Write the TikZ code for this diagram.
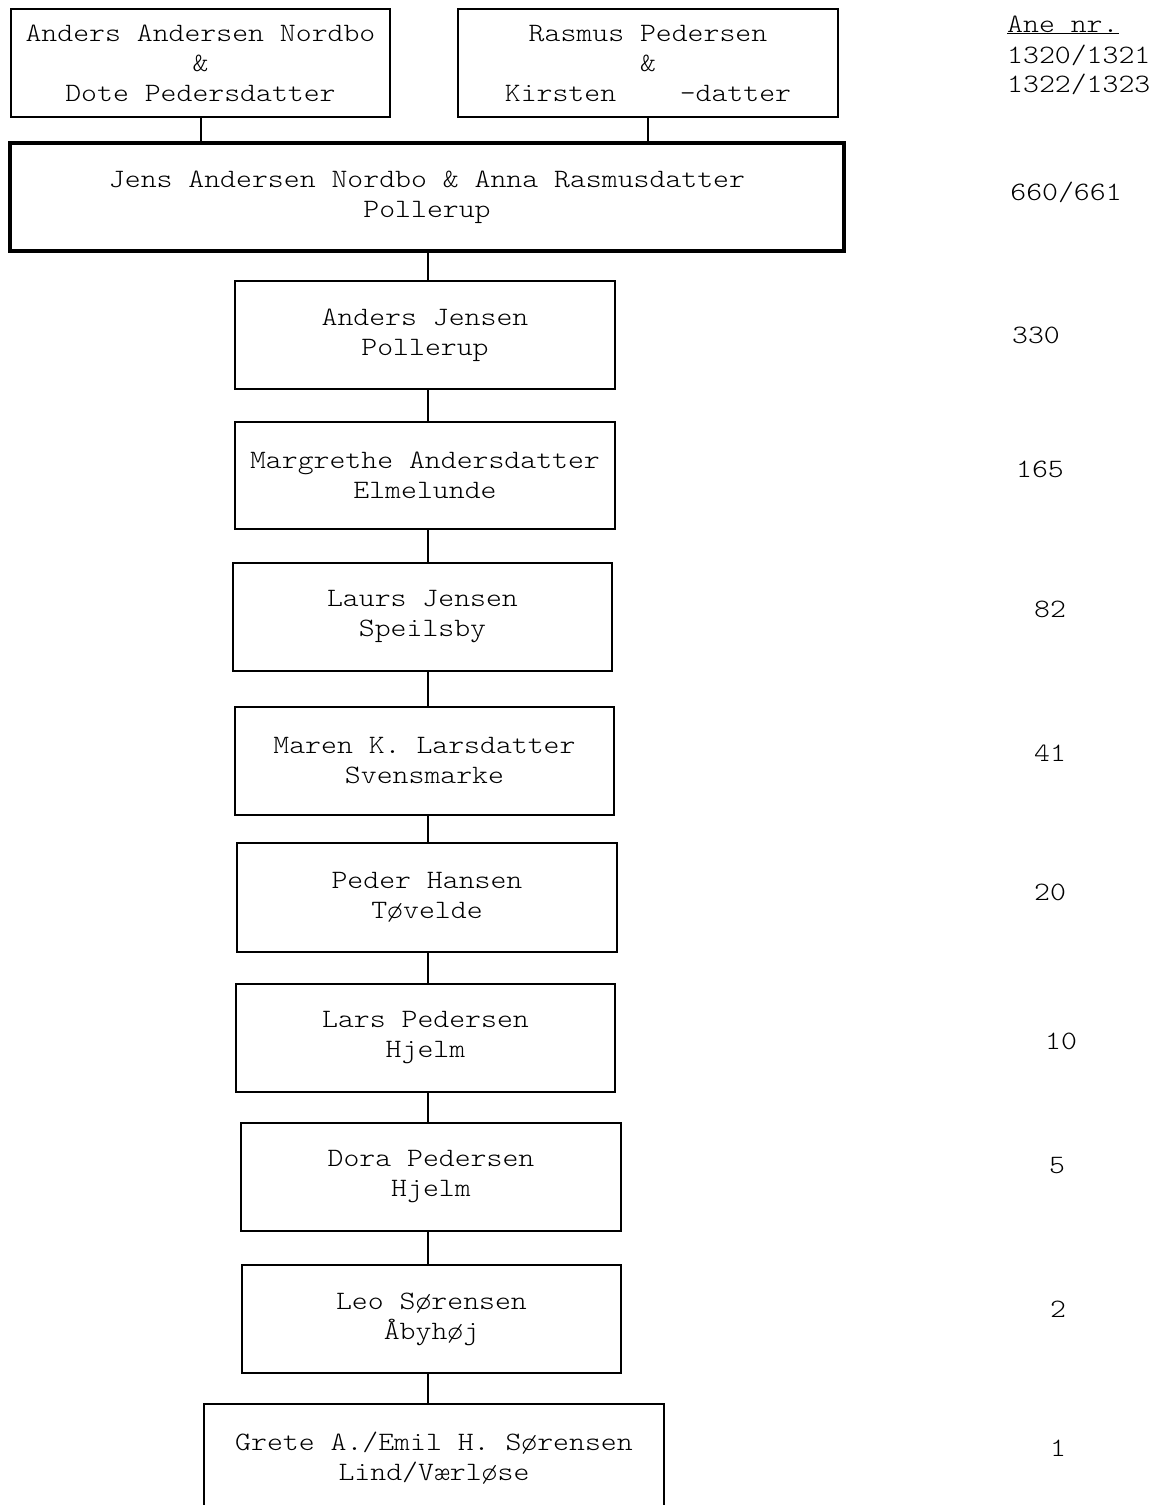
\documentclass[tikz,border=0pt]{standalone}
\usepackage{fontspec}
\newfontfamily\pedfont[FakeStretch=1.143]{lmmonolt10-regular.otf}
\tikzset{
    person/.style={draw,line width=1.6pt,minimum width=380pt,minimum height=108pt,inner sep=0pt,align=center,font=\pedfont\fontsize{26.5}{30}\selectfont},
    couple/.style={person,line width=4.2pt,minimum width=834pt},
    anenr/.style={anchor=base,inner sep=0pt,font=\pedfont\fontsize{26.5}{30}\selectfont},
    link/.style={line width=2pt}
}
\def\spine{427.5}

\begin{document}
\begin{tikzpicture}[x=1pt,y=-1pt]
  \useasboundingbox (0,0) rectangle (1164,1505);
  \clip (0,0) rectangle (1164,1505);
  \coordinate (spine) at (\spine,0);

  % Oldest couples
  \node[person,minimum width=379pt] (a1320) at (200.5,63) {Anders Andersen Nordbo\\\&\\Dote Pedersdatter};
  \node[person] (a1322) at (648,63) {Rasmus Pedersen\\\&\\Kirsten\ \ \ \ -datter};
  \node[couple] (a660) at (427,197) {Jens Andersen Nordbo \& Anna Rasmusdatter\\Pollerup};

  % Line of descent
  \node[person] (a330) at (425,335) {Anders Jensen\\Pollerup};
  \node[person,minimum height=107pt] (a165) at (425,475.5) {Margrethe Andersdatter\\Elmelunde};
  \node[person,minimum width=379pt] (a82) at (422.5,617) {Laurs Jensen\\Speilsby};
  \node[person,minimum width=379pt] (a41) at (424.5,761) {Maren K. Larsdatter\\Svensmarke};
  \node[person,minimum height=109pt] (a20) at (427,897.5) {Peder Hansen\\Tøvelde};
  \node[person,minimum width=379pt] (a10) at (425.5,1038) {Lars Pedersen\\Hjelm};
  \node[person] (a5) at (431,1177) {Dora Pedersen\\Hjelm};
  \node[person,minimum width=379pt] (a2) at (431.5,1319) {Leo Sørensen\\Åbyhøj};
  \node[person,minimum width=460pt] (a1) at (434,1458) {Grete A./Emil H. Sørensen\\Lind/Værløse};

  % Connectors
  \draw[link] (a1320.south) -- (a1320.south |- a660.north);
  \draw[link] (a1322.south) -- (a1322.south |- a660.north);
  \foreach \up/\dn in {a660/a330,a330/a165,a165/a82,a82/a41,a41/a20,a20/a10,a10/a5,a5/a2,a2/a1}
    \draw[link] (\up.south -| spine) -- (\dn.north -| spine);

  % Ane numbers
  \node[anenr,anchor=base west] (anehead) at (1007,32) {\underline{Ane nr.}};
  \node[anenr,anchor=base west] (ane1320) at (1007,63) {1320/1321};
  \node[anenr,anchor=base west] (ane1322) at (1007,92) {1322/1323};
  \node[anenr] (ane660) at (1066,200) {660/661};
  \node[anenr] (ane330) at (1036,343) {330};
  \node[anenr] (ane165) at (1040,477) {165};
  \node[anenr] (ane82) at (1050,617) {82};
  \node[anenr] (ane41) at (1050,761) {41};
  \node[anenr] (ane20) at (1050,900) {20};
  \node[anenr] (ane10) at (1061,1049) {10};
  \node[anenr] (ane5) at (1057,1173) {5};
  \node[anenr] (ane2) at (1058,1317) {2};
  \node[anenr] (ane1) at (1058,1456) {1};
\end{tikzpicture}
\end{document}
